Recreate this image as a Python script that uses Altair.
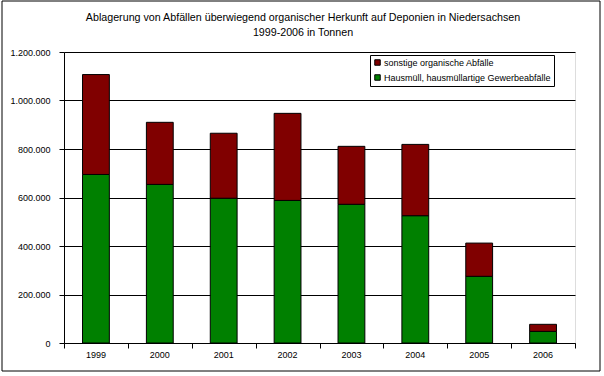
import altair as alt
import pandas as pd

years = ["1999", "2000", "2001", "2002", "2003", "2004", "2005", "2006"]
hausmuell = [695000, 654000, 597000, 588000, 572000, 525000, 275000, 48000]
sonstige = [412000, 256000, 268000, 359000, 239000, 294000, 137000, 29000]
series = ["sonstige organische Abfälle", "Hausmüll, hausmüllartige Gewerbeabfälle"]
colors = ["#800000", "#008000"]
y_ticks = [0, 200000, 400000, 600000, 800000, 1000000, 1200000]
boundaries = [0, 1, 2, 3, 4, 5, 6, 7, 8]
title_lines = ["Ablagerung von Abfällen überwiegend organischer Herkunft auf Deponien in Niedersachsen",
               "1999-2006 in Tonnen"]

rows = []
for i, yr in enumerate(years):
    rows.append({"Jahr": yr, "Art": series[1], "Wert": hausmuell[i], "ord": 0})
    rows.append({"Jahr": yr, "Art": series[0], "Wert": sonstige[i], "ord": 1})
df = pd.DataFrame(rows)

FONT = "Liberation Sans"

bars = alt.Chart(df).mark_bar(stroke="black", strokeWidth=1).encode(
    x=alt.X("Jahr:N", sort=years,
            scale=alt.Scale(paddingInner=0.58, paddingOuter=0.29),
            axis=alt.Axis(title=None, labelAngle=0, ticks=False, domain=False,
                          labelPadding=7, labelFontSize=9, labelColor="black",
                          labelFont=FONT, orient="bottom")),
    y=alt.Y("Wert:Q", stack="zero",
            scale=alt.Scale(domain=[0, 1200000], nice=False),
            axis=alt.Axis(title=None, values=y_ticks, format=",d", grid=True,
                          gridColor="black", gridOpacity=1, gridWidth=1,
                          domainColor="black", tickColor="black", tickSize=5,
                          labelFontSize=9, labelPadding=9, labelColor="black",
                          labelFont=FONT)),
    color=alt.Color("Art:N", scale=alt.Scale(domain=series, range=colors),
                    legend=alt.Legend(title=None, orient="none", legendX=306, legendY=3,
                                      strokeColor="black", fillColor="white", padding=3,
                                      symbolType="square", symbolSize=30,
                                      symbolStrokeColor="black", symbolStrokeWidth=1,
                                      labelFontSize=9, labelFont=FONT, labelColor="black",
                                      labelLimit=0, rowPadding=4, labelOffset=2)),
    order=alt.Order("ord:Q"),
)

tick_df = pd.DataFrame({"b": boundaries})
ticks = alt.Chart(tick_df).mark_point(opacity=0).encode(
    x=alt.X("b:Q", scale=alt.Scale(domain=[0, 8], nice=False, zero=False),
            axis=alt.Axis(orient="bottom", values=boundaries, labels=False, title=None,
                          domainColor="black", tickColor="black", tickSize=5, grid=False)),
)

one = pd.DataFrame({"a": [0]})
border = alt.Chart(one).mark_rect(
    fill="transparent", stroke="black", strokeWidth=1
).encode(x=alt.value(-62), x2=alt.value(536), y=alt.value(-51), y2=alt.value(319))

title1 = alt.Chart(one).mark_text(
    font=FONT, fontSize=10.7, color="black", align="center", baseline="middle"
).encode(x=alt.value(239), y=alt.value(-34), text=alt.value(title_lines[0]))
title2 = alt.Chart(one).mark_text(
    font=FONT, fontSize=10.7, color="black", align="center", baseline="middle"
).encode(x=alt.value(239), y=alt.value(-19), text=alt.value(title_lines[1]))

chart = alt.layer(border, title1, title2, bars, ticks).resolve_scale(x="independent").properties(
    width=511, height=291,
    autosize=alt.AutoSizeParams(type="none"),
    padding={"left": 64, "top": 52, "right": 29, "bottom": 33},
).configure_view(stroke="black", strokeWidth=1).configure(
    locale={"number": {"decimal": ",", "thousands": ".", "grouping": [3],
                       "currency": ["", " €"]}},
    background="white",
)

chart.save("out.html", embed_options={"renderer": "svg", "actions": False})
